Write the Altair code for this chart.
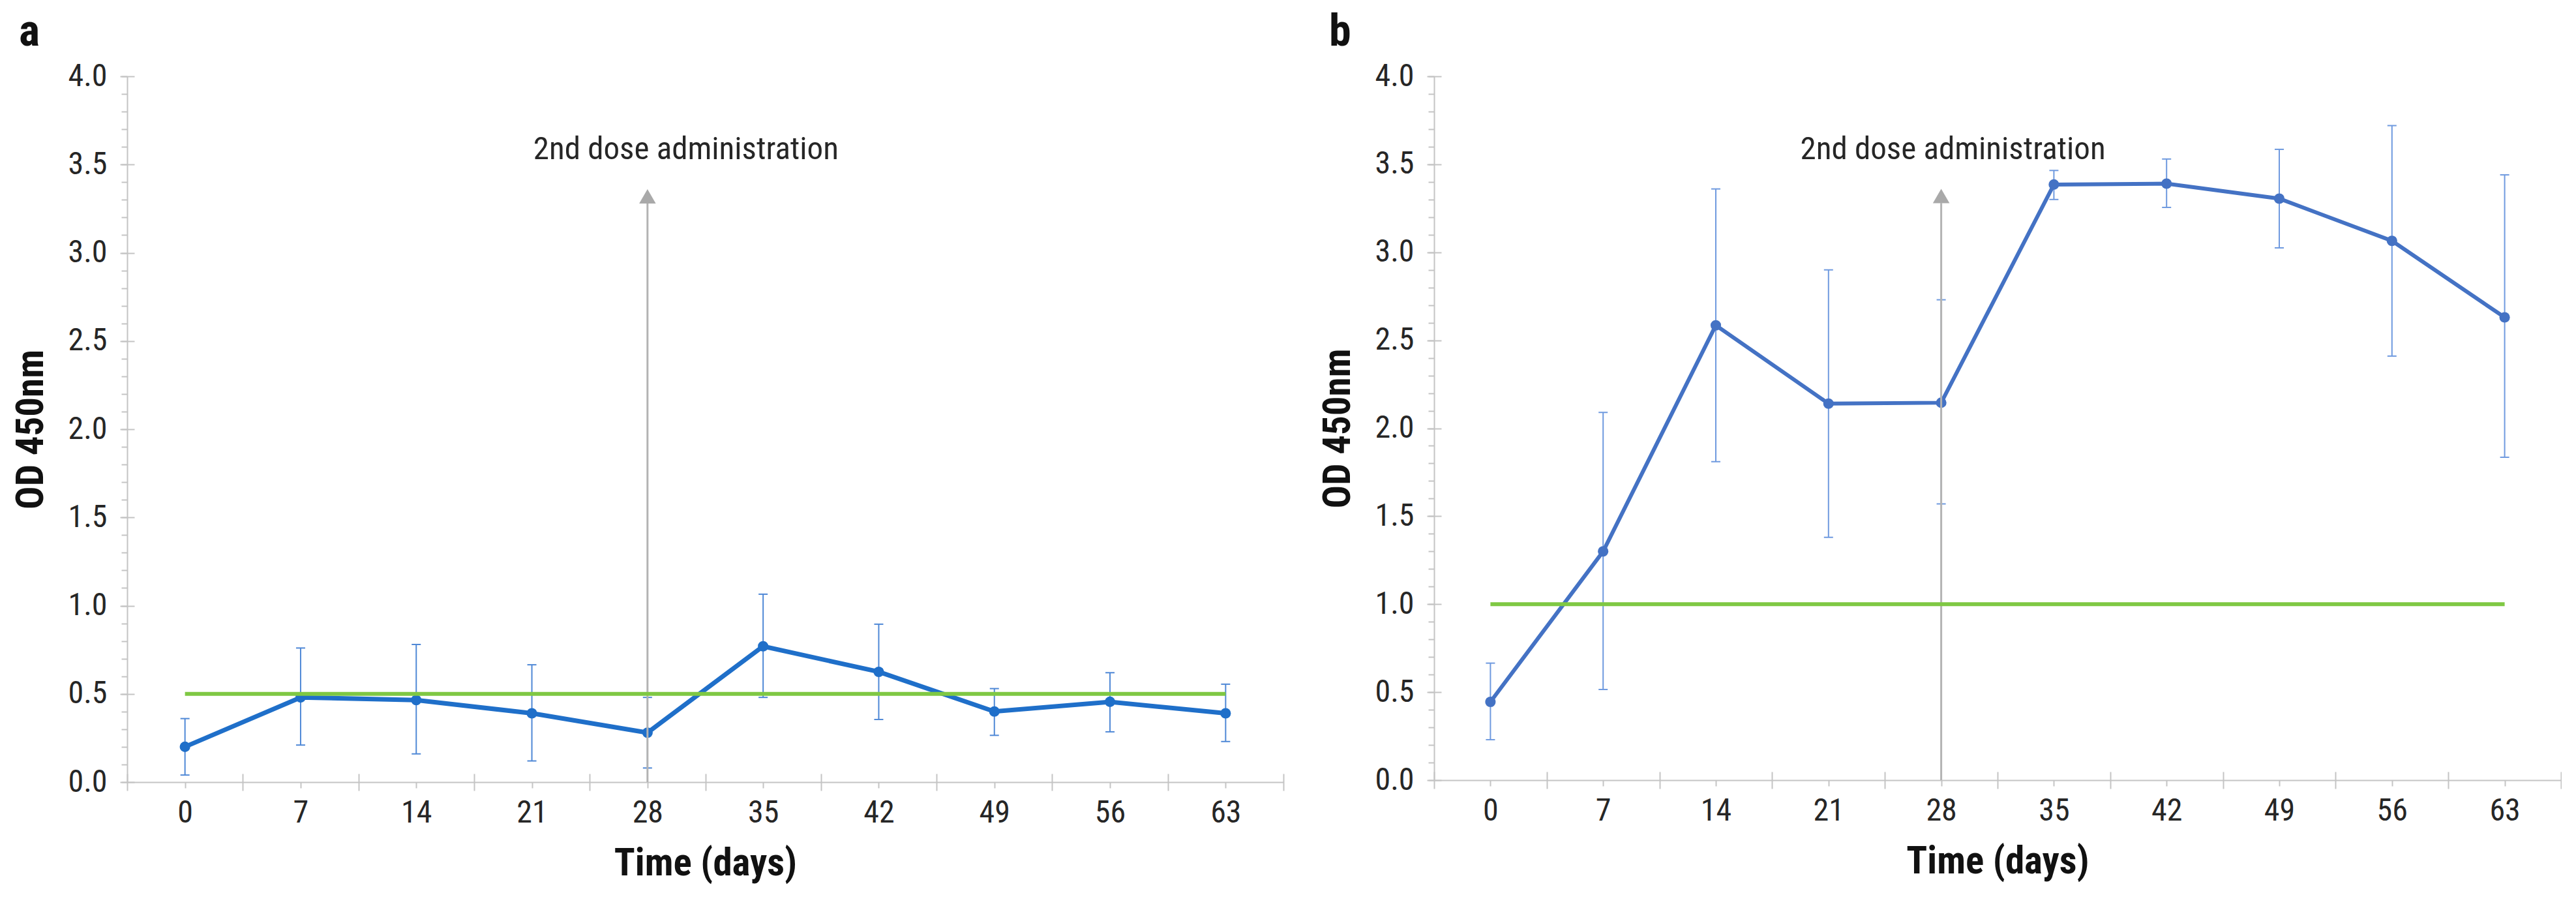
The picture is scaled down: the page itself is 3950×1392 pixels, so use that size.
import altair as alt
import pandas as pd

# ---------------- data ----------------
days = [0, 7, 14, 21, 28, 35, 42, 49, 56, 63]

mean_a = [0.20, 0.48, 0.465, 0.39, 0.28, 0.77, 0.625, 0.40, 0.455, 0.39]
low_a = [0.04, 0.21, 0.16, 0.12, 0.08, 0.48, 0.355, 0.265, 0.285, 0.23]
high_a = [0.36, 0.76, 0.78, 0.665, 0.48, 1.065, 0.895, 0.53, 0.62, 0.555]

mean_b = [0.445, 1.30, 2.585, 2.14, 2.145, 3.385, 3.39, 3.305, 3.065, 2.63]
low_b = [0.23, 0.515, 1.81, 1.38, 1.57, 3.30, 3.255, 3.025, 2.41, 1.835]
high_b = [0.665, 2.09, 3.36, 2.90, 2.73, 3.465, 3.53, 3.585, 3.72, 3.44]

cutoff_a = [0.5]
cutoff_b = [1.0]

dose_day = [28]
dose_text = ["2nd dose administration"]
arrow_start = [0.0]
arrow_end = [3.28]
arrow_head = [3.32]
text_y = [3.53]

panel_letters = ["a", "b"]

y_major = [0.0, 0.5, 1.0, 1.5, 2.0, 2.5, 3.0, 3.5, 4.0]
y_minor = [round(i * 0.1, 1) for i in range(41)]
x_bounds = [d - 3.5 for d in days] + [days[-1] + 3.5]

# ---------------- styles ----------------
FONT = "Liberation Sans Narrow, Arial Narrow, Roboto Condensed, Liberation Sans, Arial, sans-serif"
AX = "#c4c4c4"
GREEN = "#7fc843"
GRAY = "#b3b3b3"


def panel(letter, mean, low, high, cutoff, line_color, err_color, width, height, text_dx,
          line_w, letter_dx):
    df = pd.DataFrame({"day": days, "mean": mean, "low": low, "high": high})
    xs = alt.Scale(domain=[-3.5, 66.5], nice=False, zero=False)
    ys = alt.Scale(domain=[0, 4], nice=False, zero=True)
    base = alt.Chart(df)

    err = base.mark_rule(color=err_color, strokeWidth=2).encode(
        x=alt.X("day:Q", scale=xs, axis=alt.Axis(
            orient="bottom", values=x_bounds, labels=False, tickSize=26, offset=-13,
            domain=False, grid=False, title=None, tickColor=AX, tickWidth=2)),
        y=alt.Y("low:Q", scale=ys, axis=alt.Axis(
            orient="left", values=y_minor, labels=False, tickSize=9, domain=True,
            domainColor=AX, domainWidth=2, tickColor=AX, tickWidth=2, grid=False, title=None)),
        y2="high:Q",
    )
    cap_lo = base.mark_tick(orient="horizontal", size=14, thickness=2, color=err_color, opacity=1).encode(
        x=alt.X("day:Q", scale=xs, axis=None), y=alt.Y("low:Q", scale=ys, axis=None))
    cap_hi = base.mark_tick(orient="horizontal", size=14, thickness=2, color=err_color, opacity=1).encode(
        x=alt.X("day:Q", scale=xs, axis=None), y=alt.Y("high:Q", scale=ys, axis=None))

    line = base.mark_line(color=line_color, strokeWidth=line_w).encode(
        x=alt.X("day:Q", scale=xs, axis=alt.Axis(
            orient="bottom", values=days, tickSize=9, domain=True, domainColor=AX, domainWidth=2,
            tickColor=AX, tickWidth=2, grid=False, title="Time (days)", labelPadding=14,
            titlePadding=24, format="d")),
        y=alt.Y("mean:Q", scale=ys, axis=alt.Axis(
            orient="left", values=y_major, tickSize=22, offset=-11, domain=False, grid=False,
            tickColor=AX, tickWidth=2, format=".1f", labelPadding=20, title="OD 450nm",
            titlePadding=26)),
    )
    pts = base.mark_circle(color=line_color, size=260, opacity=1).encode(
        x=alt.X("day:Q", scale=xs, axis=None), y=alt.Y("mean:Q", scale=ys, axis=None))

    cut_df = pd.DataFrame({"start": [days[0]], "end": [days[-1]], "cut": cutoff})
    cut = alt.Chart(cut_df).mark_rule(color=GREEN, strokeWidth=6).encode(
        x=alt.X("start:Q", scale=xs, axis=None), x2="end:Q",
        y=alt.Y("cut:Q", scale=ys, axis=None))

    ann_df = pd.DataFrame({"day": dose_day, "y0": arrow_start, "y1": arrow_end,
                           "head": arrow_head, "ty": text_y, "label": dose_text})
    ann = alt.Chart(ann_df)
    arrow = ann.mark_rule(color=GRAY, strokeWidth=3).encode(
        x=alt.X("day:Q", scale=xs, axis=None), y=alt.Y("y0:Q", scale=ys, axis=None), y2="y1:Q")
    head = ann.mark_point(shape="triangle-up", filled=True, size=650, color="#a9a9a9", opacity=1).encode(
        x=alt.X("day:Q", scale=xs, axis=None), y=alt.Y("head:Q", scale=ys, axis=None))
    text = ann.mark_text(font=FONT, fontSize=49, color="#262626", align="center",
                         baseline="alphabetic", dx=text_dx).encode(
        x=alt.X("day:Q", scale=xs, axis=None), y=alt.Y("ty:Q", scale=ys, axis=None),
        text="label:N")

    lab = alt.Chart(pd.DataFrame({"letter": [letter]})).mark_text(
        font=FONT, fontSize=68, fontWeight="bold", color="#111111", align="left",
        baseline="alphabetic", x=letter_dx, y=-47).encode(text="letter:N")

    return alt.layer(err, cap_lo, cap_hi, line, pts, arrow, head, cut, text, lab).resolve_axis(
        x="independent", y="independent").properties(width=width, height=height)


pa = panel(panel_letters[0], mean_a, low_a, high_a, cutoff_a, "#1f6fc9", "#4f88d6",
           1773, 1082, 59, 7, -166)
pb = panel(panel_letters[1], mean_b, low_b, high_b, cutoff_b, "#4472c4", "#6f9adf",
           1728, 1079, 18, 6, -161)

chart = alt.hconcat(pa, pb, spacing=53).properties(
    padding={"left": 10, "top": 8, "right": 0, "bottom": 20},
    background="white",
).configure_view(stroke=None).configure_axis(
    labelFont=FONT, labelFontSize=48, labelColor="#262626",
    titleFont=FONT, titleFontSize=59, titleFontWeight="bold", titleColor="#111111",
)

chart.save("out.html", embed_options={"renderer": "svg", "actions": False})
